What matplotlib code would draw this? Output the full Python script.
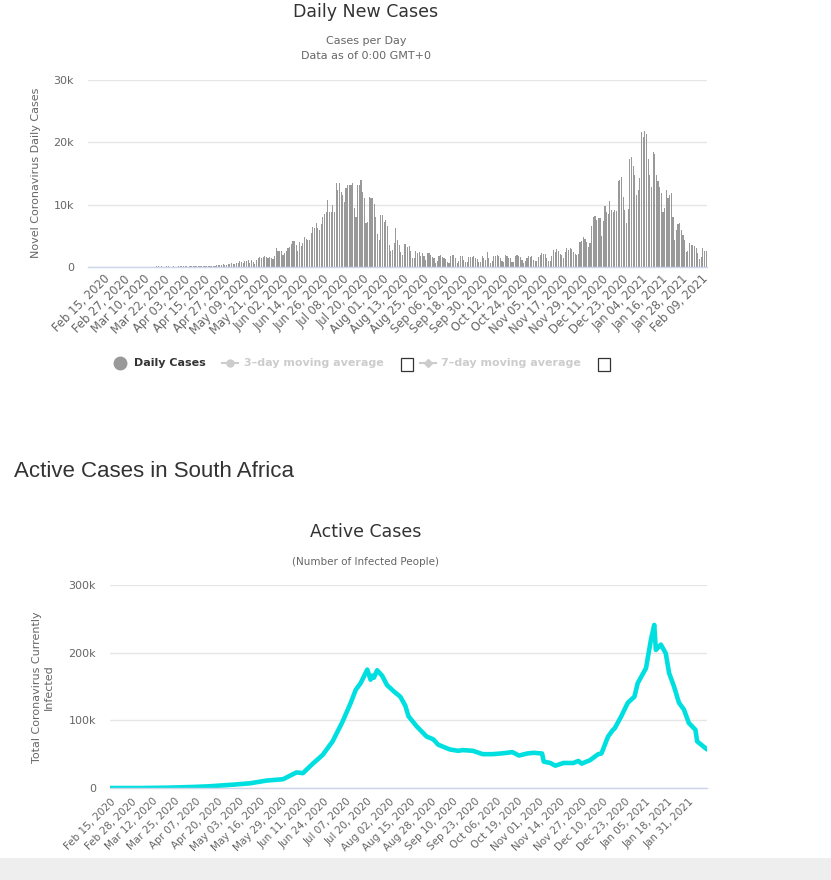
import numpy as np
import pandas as pd
import matplotlib
matplotlib.use("Agg")
import matplotlib.pyplot as plt
from matplotlib.patches import Rectangle
from matplotlib.lines import Line2D

# ---- data: daily new cases (thousands), one bar per day from 2020-02-06
daily_start = "2020-02-06"
daily_cases = [0] * 28 + [
    0, 0, 0, 0, 0, 0, 0, 0.01, 0.01, 0.02, 0.03, 0.05, 0.06, 0.09,
    0.24,
    0.07, 0.1, 0.08, 0.05, 0.1, 0.09, 0.07, 0.05, 0.1, 0.06, 0.08, 0.09, 0.14, 0.1,
    0.09, 0.12, 0.1, 0.08, 0.12, 0.1, 0.13,
    # mid April - early June
    0.16, 0.1, 0.12, 0.1, 0.2, 0.2, 0.12, 0.2, 0.22, 0.2,
    0.15, 0.2, 0.22, 0.3, 0.28, 0.25, 0.3, 0.5, 0.4, 0.35,
    0.5, 0.5, 0.6, 0.45, 0.5, 0.7, 0.65, 1.0, 0.8, 0.6,
    0.9, 1.0, 1.1, 0.7, 1.2, 0.8, 0.5, 1.1, 1.4, 1.6,
    1.5, 1.6, 1.7, 1.6, 1.4, 1.6, 1.5, 1.3, 1.7,
    # first wave
    3.0, 2.5, 2.5, 2.5, 2.0, 2.2, 2.5, 3.0, 3.2, 3.7,
    4.1, 4.2, 3.5, 2.6, 4.0, 3.4, 3.8, 4.8, 4.5, 4.4,
    4.4, 5.5, 6.4, 6.2, 7.0, 6.2, 6.0, 6.9, 8.0, 8.5,
    8.8, 10.8, 8.8, 8.9, 10.0, 8.8, 13.5, 12.3, 13.4, 12.0,
    11.6, 10.4, 12.7, 13.1, 13.2, 13.2, 13.4, 9.5, 8.1, 13.1,
    13.1, 13.9, 12.1, 11.1, 7.0, 7.2, 11.3, 11.0, 11.0, 10.1,
    8.1, 5.3, 4.4, 8.4, 8.3, 7.2, 7.5, 6.6, 3.6, 2.5,
    2.8, 3.9, 6.2, 4.4, 3.6, 2.4, 2.0, 3.7, 3.7, 3.2,
    3.4, 2.5, 1.5, 1.5, 2.5, 2.3, 2.4,
    # lull and second wave
    1.8, 2.3, 1.8, 1.2, 2.3, 2.3, 1.9, 1.6, 1.5, 0.6,
    1.0, 1.8, 1.9, 1.6, 1.5, 1.3, 0.8, 0.7, 1.7, 1.9,
    1.9, 1.4, 0.6, 1.0, 1.7, 1.7, 1.2, 0.8, 0.8, 1.6,
    1.6, 1.6, 1.8, 1.5, 1.3, 0.8, 0.8, 1.7, 1.5, 1.2,
    2.4, 1.4, 0.7, 0.9, 1.8, 1.7, 1.9, 1.7, 1.4, 1.0,
    0.8, 1.9, 1.8, 1.5, 1.5, 0.8, 0.8, 1.8, 1.9, 1.8,
    1.6, 1.2, 0.6, 1.0, 1.5, 1.7, 1.6, 1.7, 1.2, 1.0,
    0.9, 1.6, 1.9, 2.3, 2.1, 2.1, 1.5, 1.0, 1.0, 1.8,
    2.7, 2.4, 2.9, 2.5, 2.1, 1.9, 1.5, 2.4, 3.0, 2.8,
    3.1, 2.9, 2.4, 2.1, 2.0, 2.1, 4.0, 4.1, 4.8, 4.5,
    4.0, 3.2, 3.8, 6.5, 8.0, 8.2, 7.6, 7.8, 7.9, 5.0, 7.3,
    9.8, 8.9, 8.5, 10.6, 9.2, 8.8, 9.2, 9.0, 13.8, 14.0, 14.4,
    11.2, 9.2, 7.1, 9.3, 17.4, 17.7, 16.2, 14.8, 11.6, 12.4,
    14.2, 21.6, 20.8, 21.8, 21.3, 17.3, 14.8, 12.9, 18.4, 18.2,
    14.8, 13.8, 12.8, 11.9, 8.8, 9.5, 12.4, 11.0, 11.5, 11.9,
    8.0, 4.3, 5.9, 6.9, 7.0, 5.9, 5.1, 4.4, 2.4, 2.6,
    3.9, 3.5, 3.5, 3.4, 3.0, 2.3, 1.3, 1.6, 3.0, 2.5, 2.6,
]
daily_ticks = ["Feb 15, 2020", "Feb 27, 2020", "Mar 10, 2020", "Mar 22, 2020",
               "Apr 03, 2020", "Apr 15, 2020", "Apr 27, 2020", "May 09, 2020",
               "May 21, 2020", "Jun 02, 2020", "Jun 14, 2020", "Jun 26, 2020",
               "Jul 08, 2020", "Jul 20, 2020", "Aug 01, 2020", "Aug 13, 2020",
               "Aug 25, 2020", "Sep 06, 2020", "Sep 18, 2020", "Sep 30, 2020",
               "Oct 12, 2020", "Oct 24, 2020", "Nov 05, 2020", "Nov 17, 2020",
               "Nov 29, 2020", "Dec 11, 2020", "Dec 23, 2020", "Jan 04, 2021",
               "Jan 16, 2021", "Jan 28, 2021", "Feb 09, 2021"]
daily_yticks = [0, 10000, 20000, 30000]
daily_ylabels = ["0", "10k", "20k", "30k"]

# ---- data: active cases (thousands)
active_dates = ["2020-02-15", "2020-03-06", "2020-03-21", "2020-04-05", "2020-04-15",
                "2020-04-30", "2020-05-10", "2020-05-20", "2020-05-30", "2020-06-07",
                "2020-06-11", "2020-06-17", "2020-06-23", "2020-06-29", "2020-07-05",
                "2020-07-10", "2020-07-13", "2020-07-16", "2020-07-20", "2020-07-22",
                "2020-07-23", "2020-07-24", "2020-07-26", "2020-07-29", "2020-08-01",
                "2020-08-05", "2020-08-09", "2020-08-12", "2020-08-14", "2020-08-19",
                "2020-08-25", "2020-08-29", "2020-09-01", "2020-09-08", "2020-09-13",
                "2020-09-16", "2020-09-22", "2020-09-28", "2020-10-04", "2020-10-09",
                "2020-10-16", "2020-10-20", "2020-10-25", "2020-10-29", "2020-11-03",
                "2020-11-04", "2020-11-08", "2020-11-11", "2020-11-16", "2020-11-22",
                "2020-11-25", "2020-11-27", "2020-12-02", "2020-12-07", "2020-12-09",
                "2020-12-13", "2020-12-16", "2020-12-17", "2020-12-21", "2020-12-22",
                "2020-12-25", "2020-12-29", "2020-12-31", "2021-01-05", "2021-01-08",
                "2021-01-10", "2021-01-11", "2021-01-14", "2021-01-17", "2021-01-19",
                "2021-01-22", "2021-01-25", "2021-01-28", "2021-01-31", "2021-02-04",
                "2021-02-05", "2021-02-11"]
active_cases = [0, 0, 0.5, 1.5, 2.5,
                5, 7, 11, 13, 23,
                22, 36, 49, 69, 98,
                126, 145, 155, 175, 160,
                166, 163, 174, 166, 152,
                143, 135, 122, 106, 91,
                76, 72, 64, 57, 55,
                56, 55, 50, 50, 51,
                53, 48, 51, 52, 51,
                39, 37, 33, 37, 37,
                40, 36, 41, 50, 51,
                76, 86, 88, 106, 111,
                126, 135, 155, 177, 219,
                241, 204, 212, 199, 170,
                150, 126, 116, 96, 86,
                69, 57]
active_ticks = ["Feb 15, 2020", "Feb 28, 2020", "Mar 12, 2020", "Mar 25, 2020",
                "Apr 07, 2020", "Apr 20, 2020", "May 03, 2020", "May 16, 2020",
                "May 29, 2020", "Jun 11, 2020", "Jun 24, 2020", "Jul 07, 2020",
                "Jul 20, 2020", "Aug 02, 2020", "Aug 15, 2020", "Aug 28, 2020",
                "Sep 10, 2020", "Sep 23, 2020", "Oct 06, 2020", "Oct 19, 2020",
                "Nov 01, 2020", "Nov 14, 2020", "Nov 27, 2020", "Dec 10, 2020",
                "Dec 23, 2020", "Jan 05, 2021", "Jan 18, 2021", "Jan 31, 2021"]
active_yticks = [0, 100000, 200000, 300000]
active_ylabels = ["0", "100k", "200k", "300k"]

W, H = 831, 880
TXT = "#333333"
LBL = "#666666"
GRID = "#e6e6e6"
BASE = "#ccd6eb"

plt.rcParams["font.family"] = ["DejaVu Sans"]
fig = plt.figure(figsize=(W / 100, H / 100), dpi=100)


def fx(px):
    return px / W


def fy(py):
    return 1 - py / H


def style_axes(ax, xsize):
    for s in ["top", "right", "left"]:
        ax.spines[s].set_visible(False)
    ax.spines["bottom"].set_color(BASE)
    ax.spines["bottom"].set_linewidth(1)
    ax.grid(axis="y", color=GRID, linewidth=1)
    ax.set_axisbelow(True)
    ax.tick_params(axis="y", length=0, pad=10, labelsize=8, labelcolor=LBL)
    ax.tick_params(axis="x", length=0, pad=4, labelsize=xsize, labelcolor=LBL)


# ---------------- top: daily new cases ----------------
ax1 = fig.add_axes([fx(88), fy(267), (707 - 88) / W, (267 - 80) / H])
days = pd.date_range(daily_start, periods=len(daily_cases))
pos = np.arange(len(daily_cases))
ax1.bar(pos, np.array(daily_cases) * 1000, width=0.68, color="#999999", linewidth=0)
ax1.set_xlim(-0.5, len(daily_cases) - 0.5)
ax1.set_ylim(0, 30000)
ax1.set_yticks(daily_yticks)
ax1.set_yticklabels(daily_ylabels)
tick_idx = [days.get_loc(d) for d in pd.to_datetime(daily_ticks, format="%b %d, %Y")]
ax1.set_xticks(tick_idx)
ax1.set_xticklabels(daily_ticks, rotation=45, ha="right", va="top", rotation_mode="anchor")
style_axes(ax1, 8.3)

fig.text(fx(366), fy(12), "Daily New Cases", ha="center", va="center", fontsize=12.5, color=TXT)
fig.text(fx(366), fy(41), "Cases per Day", ha="center", va="center", fontsize=8, color=LBL)
fig.text(fx(366), fy(56), "Data as of 0:00 GMT+0", ha="center", va="center", fontsize=8, color=LBL)
fig.text(fx(36), fy(173), "Novel Coronavirus Daily Cases", rotation=90,
         ha="center", va="center", fontsize=8, color=LBL)

# legend
ly = fy(363)
fig.add_artist(Line2D([fx(120)], [ly], marker="o", markersize=9, color="#999999",
                      transform=fig.transFigure))
fig.text(fx(134), ly, "Daily Cases", ha="left", va="center", fontsize=8,
         fontweight="bold", color=TXT)
fig.add_artist(Line2D([fx(222), fx(238)], [ly, ly], color="#cccccc", linewidth=1.5,
                      transform=fig.transFigure))
fig.add_artist(Line2D([fx(230)], [ly], marker="o", markersize=5, color="#cccccc",
                      transform=fig.transFigure))
fig.text(fx(244), ly, "3\u2013day moving average", ha="left", va="center", fontsize=8,
         fontweight="bold", color="#cccccc")
fig.add_artist(Line2D([fx(420), fx(436)], [ly, ly], color="#cccccc", linewidth=1.5,
                      transform=fig.transFigure))
fig.add_artist(Line2D([fx(428)], [ly], marker="D", markersize=4, color="#cccccc",
                      transform=fig.transFigure))
fig.text(fx(441), ly, "7\u2013day moving average", ha="left", va="center", fontsize=8,
         fontweight="bold", color="#cccccc")
for bx in [401, 598]:
    fig.add_artist(Rectangle((fx(bx), fy(371)), 12 / W, 13 / H, transform=fig.transFigure,
                             facecolor="white", edgecolor="#333333", linewidth=0.9))

# ---------------- bottom: active cases ----------------
fig.text(fx(14), fy(471), "Active Cases in South Africa", ha="left", va="center",
         fontsize=16, color=TXT, family=["Liberation Sans", "DejaVu Sans"])

ax2 = fig.add_axes([fx(110), fy(788), (707 - 110) / W, (788 - 585) / H])
ax2.plot(pd.to_datetime(active_dates), np.array(active_cases) * 1000, color="#00dfdf",
         linewidth=3.3, solid_joinstyle="round", solid_capstyle="round")
ax2.set_xlim(pd.Timestamp("2020-02-15"), pd.Timestamp("2021-02-11"))
ax2.set_ylim(0, 300000)
ax2.set_yticks(active_yticks)
ax2.set_yticklabels(active_ylabels)
ax2.set_xticks(pd.to_datetime(active_ticks, format="%b %d, %Y"))
ax2.set_xticklabels(active_ticks, rotation=45, ha="right", va="top", rotation_mode="anchor")
style_axes(ax2, 7.5)
ax2.tick_params(axis="x", pad=6)

fig.text(fx(366), fy(532), "Active Cases", ha="center", va="center", fontsize=12.5, color=TXT)
fig.text(fx(366), fy(562), "(Number of Infected People)", ha="center", va="center",
         fontsize=7.5, color=LBL)
fig.text(fx(43), fy(687), "Total Coronavirus Currently\nInfected", rotation=90,
         ha="center", va="center", fontsize=8, color=LBL, multialignment="center")

# grey page strip at the bottom
fig.add_artist(Rectangle((0, 0), 1, 22 / H, transform=fig.transFigure,
                         facecolor="#eeeeee", edgecolor="none"))

fig.savefig("out.png", dpi=100)
